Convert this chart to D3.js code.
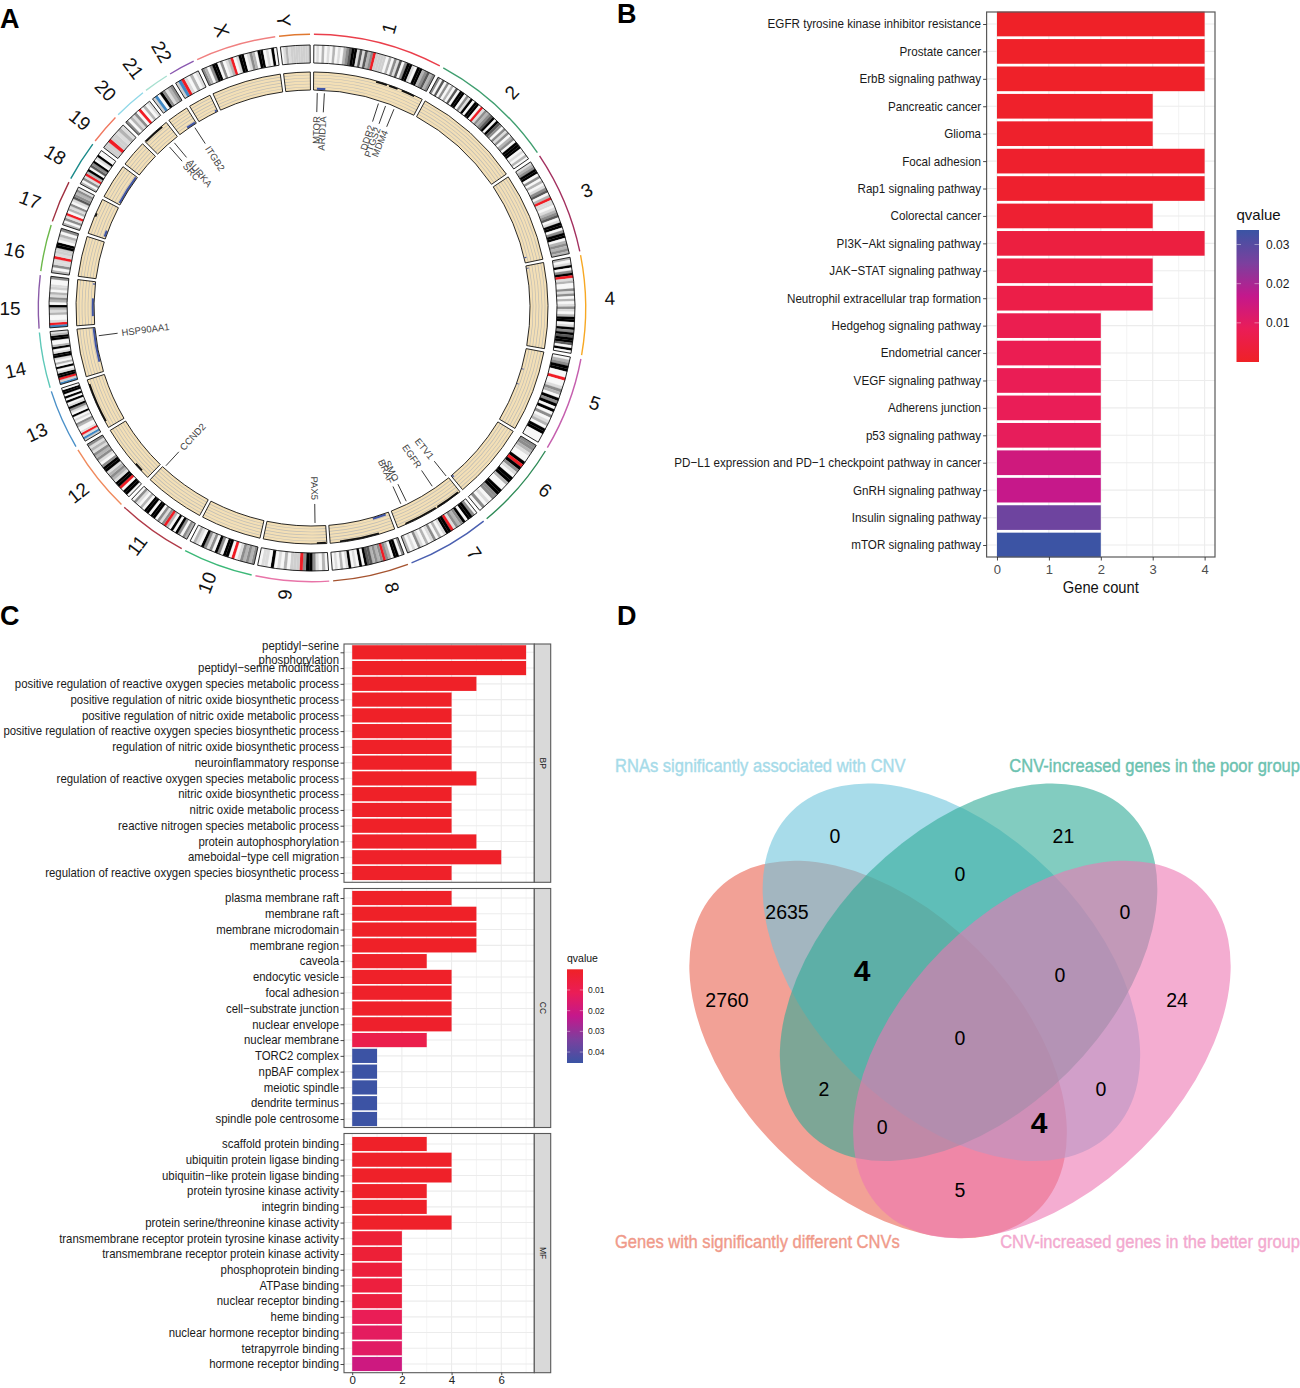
<!DOCTYPE html>
<html><head><meta charset="utf-8">
<style>html,body{margin:0;padding:0;background:#fff}svg{display:block}text{font-family:"Liberation Sans",Arial,sans-serif}</style>
<script src="https://cdn.jsdelivr.net/npm/d3@7/dist/d3.min.js"></script>
</head><body><svg id="c" width="1300" height="1388" viewBox="0 0 1300 1388"></svg>
<script>
// ---------- Panel A data ----------
const chrNames=["1","2","3","4","5","6","7","8","9","10","11","12","13","14","15","16","17","18","19","20","21","22","X","Y"];
const chrLengths=[249,243,198,191,181,171,159,146,141,135,135,133,115,107,102,90,81,78,59,63,48,51,155,59];
const chrColors=["#ea3f4b","#3f9e6f","#a3305f","#f7a823","#c55fae","#2e8b57","#4a5fb0","#a5532f","#e874a8","#3cb878","#b03a48","#f08a5d","#4a90c8","#5dc8b8","#8a5aa8","#6cb84a","#a03040","#1a8a8a","#f07860","#90d8e8","#a8e0d0","#8a58b0","#f08080","#e07830"];
// chromosome label placement (angle, radius)
const chrLabelAngles=[15.4,42.8,66.8,88.1,108.6,128,146.5,164,185.4,200.9,216.4,231.7,245.7,258.2,270,281,291,300.8,309,316.5,323.3,329.6,342,354.4];
const chrLabelRadii=[290,294,299,298,298.5,296,294,291,288,294,295,298,302,303,302,303,302,299,298.6,300,299,297,292,289];
// cytoband strip codes read clockwise along each chromosome
const chrBands=[
"0102010201023455141423RLLLL0203140355105523423",
"30403020405503150550R13234505430313023055501020",
"123550302013402R110123401550355023232",
"2015035R12003130201310255015354554050",
"0235500R0013205350503012055000",
"3321005R531055200553301030",
"0355053231R55102031020130102",
"3055023R3232445050105102010",
"02013553RLLL0201050110",
"3232310R055035031350120",
"230350502R313055055020130",
"0550R5512321553013231213",
"LB1R1002301050135105050550",
"BLR551050201551052005521",
"BR1002125023120L1003",
"20311R1LL5501203",
"2031R02130143231",
"2031R25043501500",
"LLRLL121",
"302130R0201",
"LB053123",
"LBR10201",
"32035503012R0155013205501050",
"0121LLLLLLLL"
];
const bandFill={0:"#f7f7f7",1:"#dcdcdc",2:"#b4b4b4",3:"#8c8c8c",4:"#595959",5:"#000000",R:"#f01c24",L:"#cfcfcf",B:"#3f88c5"};
// [chromosome, start Mb, end Mb]
const blueSegments=[["1",8,28],["3",184,187],["4",5,7],["5",48,50],["5",85,87],["6",166,170],["8",8,40],["15",20,62],["15",95,98],["14",25,106],["17",5,20],["18",4,76],["21",24,46],["22",45,50]];
const blackSegments=[["1",140,165],["1",170,190],["1",200,230],["7",4,60],["7",64,140],["8",36,124],["9",2,22],["12",20,40],["13",15,105],["17",40,48],["20",2,50]];
const geneNames=["MTOR","ARID1A","DDR2","PTGS2","MDM4","ETV1","EGFR","SMO","BRAF","PAX5","CCND2","HSP90AA1","SRC","AURKA","ITGB2"];
const geneAngles=[1.4,3.3,18,20,22.4,141.4,146,154,155.6,179.2,222.8,262.6,318.5,320.2,327];

// ---------- Panel B data ----------
const keggTerms=["EGFR tyrosine kinase inhibitor resistance","Prostate cancer","ErbB signaling pathway","Pancreatic cancer","Glioma","Focal adhesion","Rap1 signaling pathway","Colorectal cancer","PI3K−Akt signaling pathway","JAK−STAT signaling pathway","Neutrophil extracellular trap formation","Hedgehog signaling pathway","Endometrial cancer","VEGF signaling pathway","Adherens junction","p53 signaling pathway","PD−L1 expression and PD−1 checkpoint pathway in cancer","GnRH signaling pathway","Insulin signaling pathway","mTOR signaling pathway"];
const keggCounts=[4,4,4,3,3,4,4,3,4,3,3,2,2,2,2,2,2,2,2,2];
const keggQ=[0.0004,0.0005,0.0006,0.0008,0.001,0.0012,0.0014,0.002,0.0045,0.0052,0.0058,0.0072,0.0075,0.008,0.0085,0.009,0.0145,0.0165,0.027,0.0335];
const keggTicks=[0,1,2,3,4];
const keggLegendTicks=[0.01,0.02,0.03];

// ---------- Panel C data ----------
const bpTerms=["peptidyl−serine\nphosphorylation","peptidyl−serine modification","positive regulation of reactive oxygen species metabolic process","positive regulation of nitric oxide biosynthetic process","positive regulation of nitric oxide metabolic process","positive regulation of reactive oxygen species biosynthetic process","regulation of nitric oxide biosynthetic process","neuroinflammatory response","regulation of reactive oxygen species metabolic process","nitric oxide biosynthetic process","nitric oxide metabolic process","reactive nitrogen species metabolic process","protein autophosphorylation","ameboidal−type cell migration","regulation of reactive oxygen species biosynthetic process"];
const bpCounts=[7,7,5,4,4,4,4,4,5,4,4,4,5,6,4];
const bpQ=[0.0003,0.0003,0.0004,0.0004,0.0004,0.0004,0.0004,0.0005,0.0005,0.0005,0.0005,0.0005,0.0006,0.0006,0.0006];
const ccTerms=["plasma membrane raft","membrane raft","membrane microdomain","membrane region","caveola","endocytic vesicle","focal adhesion","cell−substrate junction","nuclear envelope","nuclear membrane","TORC2 complex","npBAF complex","meiotic spindle","dendrite terminus","spindle pole centrosome"];
const ccCounts=[4,5,5,5,3,4,4,4,4,3,1,1,1,1,1];
const ccQ=[0.0004,0.0004,0.0004,0.0004,0.0006,0.0008,0.001,0.001,0.0015,0.0085,0.045,0.045,0.045,0.045,0.045];
const mfTerms=["scaffold protein binding","ubiquitin protein ligase binding","ubiquitin−like protein ligase binding","protein tyrosine kinase activity","integrin binding","protein serine/threonine kinase activity","transmembrane receptor protein tyrosine kinase activity","transmembrane receptor protein kinase activity","phosphoprotein binding","ATPase binding","nuclear receptor binding","heme binding","nuclear hormone receptor binding","tetrapyrrole binding","hormone receptor binding"];
const mfCounts=[3,4,4,3,3,4,2,2,2,2,2,2,2,2,2];
const mfQ=[0.0006,0.0006,0.0006,0.0008,0.0008,0.001,0.004,0.004,0.005,0.0055,0.006,0.011,0.013,0.014,0.02];
const goTicks=[0,2,4,6];
const goLegendTicks=[0.01,0.02,0.03,0.04];

// ---------- Panel D data ----------
const vennSets=["RNAs significantly associated with CNV","CNV-increased genes in the poor group","Genes with significantly different CNVs","CNV-increased genes in the better group"];
const vennValues=[0,21,0,2635,0,4,0,2760,24,0,2,0,0,4,5];
const vennBold=[0,0,0,0,0,1,0,0,0,0,0,0,0,1,0];
// region anchors, in venn units
const vennRegionU=[[-.656,-1.06],[.543,-1.06],[0,-.86],[-.908,-.66],[.866,-.66],[-.514,-.353],[.525,-.33],[-1.223,-.2],[1.139,-.2],[0,0],[-.714,.269],[.74,.269],[-.409,.467],[.415,.446],[0,.797]];
// ellipses: centre (u), semi axes (u), rotation
const vennEllipses=[[-.045,-.345,1.19,.74,45],[.045,-.345,1.19,.74,-45],[-.43,.06,1.19,.74,45],[.43,.06,1.19,.74,-45]];
const vennFills=["#6ec5dc","#2faa96","#e96250","#ed76b2"];
const vennTextColors=["#a6dbe9","#6cc2b0","#f09a8a","#f3a9cf"];
const vennDrawOrder=[2,0,1,3];

// ---------- Shared ----------
const svg=d3.select("#c");
const colorStops=["#ef2126","#ea1d57","#c4188c","#7b409e","#3a54a4"];
const interp=d3.piecewise(d3.interpolateRgb,colorStops);
const gridCol="#ececec",borderCol="#595959";

[["A",0,28],["B",617,23],["C",0,625],["D",617,625]].forEach(p=>{
  svg.append("text").attr("x",p[1]).attr("y",p[2]).attr("font-size",27).attr("font-weight","bold").attr("fill","#000").text(p[0]);
});

// ---------- Panel A ----------
(function(){
  const g=svg.append("g").attr("transform","translate(312,308)");
  const gap=0.81, start=0.4, total=d3.sum(chrLengths);
  const deg=d3.scaleLinear().domain([0,total]).range([0,360-gap*24]);
  const rad=a=>a*Math.PI/180;
  let cum=0;
  const sect=chrNames.map((n,i)=>{
    const a0=start+i*gap+deg(cum); cum+=chrLengths[i];
    const a1=start+i*gap+deg(cum);
    return {n,i,a0,a1,len:chrLengths[i],col:chrColors[i],bands:chrBands[i]};
  });
  const arc=d3.arc();
  const sec=(r0,r1,a0,a1)=>arc({innerRadius:r0,outerRadius:r1,startAngle:rad(a0),endAngle:rad(a1)});
  const byName=Object.fromEntries(sect.map(s=>[s.n,s]));
  const posA=(s,mb)=>s.a0+(s.a1-s.a0)*mb/s.len;
  const rOuter=[245,263], rTrack=[218,236];
  const trackR=d3.scaleLinear().domain([0,6]).range(rTrack);

  sect.forEach(s=>{
    g.append("path").attr("d",sec(273,274.4,s.a0,s.a1)).attr("fill",s.col);
    const codes=s.bands.split("");
    const bx=d3.scaleLinear().domain([0,codes.length]).range([s.a0,s.a1]);
    codes.forEach((c,k)=>{
      g.append("path").attr("d",sec(rOuter[0],rOuter[1],bx(k),bx(k+1))).attr("fill",bandFill[c]).attr("stroke",bandFill[c]).attr("stroke-width",.2);
    });
    g.append("path").attr("d",sec(rOuter[0],rOuter[1],s.a0,s.a1)).attr("fill","none").attr("stroke","#111").attr("stroke-width",.9);
    g.append("path").attr("d",sec(rTrack[0],rTrack[1],s.a0,s.a1)).attr("fill","#f3dfb6");
    d3.range(1,6).forEach(k=>{
      const r=trackR(k);
      g.append("path").attr("d",sec(r-.35,r+.35,s.a0,s.a1)).attr("fill","#bfbdb5");
    });
    const la=chrLabelAngles[s.i], lr=chrLabelRadii[s.i];
    const x=lr*Math.sin(rad(la)), y=-lr*Math.cos(rad(la));
    const rot=la<180?la-90:la+90;
    g.append("text").attr("transform",`translate(${x},${y}) rotate(${rot})`).attr("text-anchor","middle").attr("dy","0.35em").attr("font-size",19).attr("fill","#111").text(s.n);
  });
  blueSegments.forEach(d=>{const s=byName[d[0]];
    g.append("path").attr("d",sec(trackR(0)+.3,trackR(0)+2.3,posA(s,d[1]),posA(s,Math.min(d[2],s.len)))).attr("fill","#3f55a8");});
  blackSegments.forEach(d=>{const s=byName[d[0]];
    g.append("path").attr("d",sec(trackR(6)-1.8,trackR(6),posA(s,d[1]),posA(s,Math.min(d[2],s.len)))).attr("fill","#111");});
  sect.forEach(s=>{
    g.append("path").attr("d",sec(rTrack[0],rTrack[1],s.a0,s.a1)).attr("fill","none").attr("stroke","#111").attr("stroke-width",.9);
  });
  geneNames.forEach((n,i)=>{
    const a=geneAngles[i], sa=Math.sin(rad(a)), ca=-Math.cos(rad(a));
    g.append("line").attr("x1",215*sa).attr("y1",215*ca).attr("x2",196*sa).attr("y2",196*ca).attr("stroke","#222").attr("stroke-width",.9);
    const right=a<180, rot=right?a-90:a+90;
    g.append("text").attr("transform",`translate(${192*sa},${192*ca}) rotate(${rot})`)
      .attr("text-anchor",right?"end":"start").attr("dy","0.35em").attr("font-size",9.5).attr("fill","#444").text(n);
  });
})();

// helpers for bar panels
function grid(g,x,y,x0,x1,y0,y1,major,minor,rows){
  minor.forEach(v=>g.append("line").attr("x1",x(v)).attr("x2",x(v)).attr("y1",y0).attr("y2",y1).attr("stroke",gridCol).attr("stroke-width",.6));
  major.forEach(v=>g.append("line").attr("x1",x(v)).attr("x2",x(v)).attr("y1",y0).attr("y2",y1).attr("stroke",gridCol).attr("stroke-width",1.1));
  rows.forEach(t=>g.append("line").attr("x1",x0).attr("x2",x1).attr("y1",y(t)).attr("y2",y(t)).attr("stroke",gridCol).attr("stroke-width",1.1));
}
function yLabels(axisG,sx,fs,lineGap){
  axisG.select(".domain").remove();
  axisG.selectAll(".tick line").attr("stroke","#333").attr("stroke-width",.9);
  axisG.selectAll(".tick text").each(function(d){
    const t=d3.select(this), lines=String(d).split("\n"), xx=+t.attr("x");
    t.text(null).attr("text-anchor","end").attr("font-size",fs).attr("fill","#1a1a1a").attr("font-family",null).attr("dy",null)
     .attr("transform",`translate(${xx},0) scale(${sx},1)`).attr("x",0);
    lines.forEach((l,i)=>t.append("tspan").attr("x",0).attr("y",(i-(lines.length-1)/2)*lineGap+fs*.3).text(l));
  });
}
function xAxisStyle(a,fs,col){
  a.select(".domain").remove();
  a.selectAll(".tick line").attr("stroke","#333").attr("stroke-width",.9);
  a.selectAll(".tick text").attr("font-size",fs).attr("fill",col).attr("font-family",null);
}
function legend(id,x0,x1,y0,y1,qScale,ticks,titleY,titleSize,labSize,reverse){
  const grad=svg.append("defs").append("linearGradient").attr("id",id).attr("x1",0).attr("x2",0).attr("y1",reverse?0:1).attr("y2",reverse?1:0);
  colorStops.forEach((c,i)=>grad.append("stop").attr("offset",i/(colorStops.length-1)).attr("stop-color",c));
  svg.append("rect").attr("x",x0).attr("y",y0).attr("width",x1-x0).attr("height",y1-y0).attr("fill",`url(#${id})`);
  const w=(x1-x0)/5;
  ticks.forEach(t=>{
    const y=qScale(t);
    [[x0,x0+w],[x1-w,x1]].forEach(p=>svg.append("line").attr("x1",p[0]).attr("x2",p[1]).attr("y1",y).attr("y2",y).attr("stroke","#fff").attr("stroke-opacity",.6).attr("stroke-width",.7));
    svg.append("text").attr("x",x1+(labSize>10?7:5)).attr("y",y).attr("dy","0.35em").attr("font-size",labSize).attr("fill","#1a1a1a").text(t.toFixed(2));
  });
  svg.append("text").attr("x",x0).attr("y",titleY).attr("font-size",titleSize).attr("fill","#111").text("qvalue");
}

// ---------- Panel B ----------
(function(){
  const g=svg.append("g");
  const x0=986.6,x1=1215,y0=12,y1=557;
  const x=d3.scaleLinear().domain([-0.2,4.2]).range([x0,x1]);
  const y=d3.scalePoint().domain(keggTerms).range([24,545]);
  const color=d3.scaleLinear().domain([0,0.0337]).range([0,1]);
  grid(g,x,y,x0,x1,y0,y1,keggTicks,[.5,1.5,2.5,3.5],keggTerms);
  const h=y.step()*.9;
  g.selectAll(".b").data(keggTerms).enter().append("rect")
    .attr("x",x(0)).attr("y",d=>y(d)-h/2).attr("height",h)
    .attr("width",(d,i)=>x(keggCounts[i])-x(0)).attr("fill",(d,i)=>interp(color(keggQ[i])));
  g.append("rect").attr("x",x0).attr("y",y0).attr("width",x1-x0).attr("height",y1-y0).attr("fill","none").attr("stroke",borderCol).attr("stroke-width",1.2);
  const ax=g.append("g").attr("transform",`translate(0,${y1})`).call(d3.axisBottom(x).tickValues(keggTicks).tickFormat(d3.format("d")).tickSize(3.5).tickPadding(4));
  xAxisStyle(ax,13,"#4d4d4d");
  const ay=g.append("g").attr("transform",`translate(${x0},0)`).call(d3.axisLeft(y).tickSize(3.5).tickPadding(2));
  yLabels(ay,.897,13,14);
  g.append("text").attr("x",x(2)).attr("y",593).attr("text-anchor","middle").attr("font-size",16).attr("transform",`translate(${x(2)},0) scale(.92,1) translate(${-x(2)},0)`).attr("fill","#111").text("Gene count");
  const qs=d3.scaleLinear().domain([0,0.0337]).range([362,230]);
  legend("lgB",1236.5,1259,230,362,qs,keggLegendTicks,220,15,12,false);
})();

// ---------- Panel C ----------
(function(){
  const x0=344,x1=534.3,xs=550.7;
  const x=d3.scaleLinear().domain([-0.33,7.33]).range([x0,x1]);
  const qMax=0.0453;
  const panels=[
    {name:"BP",terms:bpTerms,counts:bpCounts,q:bpQ,y0:644,y1:882.3,ry:[652.3,873]},
    {name:"CC",terms:ccTerms,counts:ccCounts,q:ccQ,y0:888.5,y1:1127.5,ry:[898,1119]},
    {name:"MF",terms:mfTerms,counts:mfCounts,q:mfQ,y0:1133.5,y1:1372.7,ry:[1144,1364]}
  ];
  panels.forEach((p,pi)=>{
    const g=svg.append("g");
    const y=d3.scalePoint().domain(p.terms).range(p.ry);
    grid(g,x,y,x0,x1,p.y0,p.y1,goTicks,[1,3,5,7],p.terms);
    const h=y.step()*.9;
    g.selectAll(".b").data(p.terms).enter().append("rect")
      .attr("x",x(0)).attr("y",d=>y(d)-h/2).attr("height",h)
      .attr("width",(d,i)=>x(p.counts[i])-x(0)).attr("fill",(d,i)=>interp(p.q[i]/qMax));
    g.append("rect").attr("x",x0).attr("y",p.y0).attr("width",x1-x0).attr("height",p.y1-p.y0).attr("fill","none").attr("stroke",borderCol).attr("stroke-width",1.1);
    g.append("rect").attr("x",x1).attr("y",p.y0).attr("width",xs-x1).attr("height",p.y1-p.y0).attr("fill","#d9d9d9").attr("stroke",borderCol).attr("stroke-width",1.1);
    g.append("text").attr("transform",`translate(${(x1+xs)/2},${(p.y0+p.y1)/2}) rotate(90)`).attr("text-anchor","middle").attr("dy","0.35em").attr("font-size",8.5).attr("fill","#222").text(p.name);
    const ay=g.append("g").attr("transform",`translate(${x0},0)`).call(d3.axisLeft(y).tickSize(3.5).tickPadding(1.5));
    yLabels(ay,.912,12.5,14);
    if(pi===2){
      const ax=g.append("g").attr("transform",`translate(0,${p.y1})`).call(d3.axisBottom(x).tickValues(goTicks).tickFormat(d3.format("d")).tickSize(2.5).tickPadding(0.5));
      xAxisStyle(ax,11.5,"#222");
    }
  });
  const qs=d3.scaleLinear().domain([0,qMax]).range([969.3,1063]);
  legend("lgC",567,583,969.3,1063,qs,goLegendTicks,962,10.5,8.5,true);
})();

// ---------- Panel D ----------
(function(){
  const g=svg.append("g");
  const vx=d3.scaleLinear().domain([-1,1]).range([960-190.5,960+190.5]);
  const vy=d3.scaleLinear().domain([-1,1]).range([1038-190.5,1038+190.5]);
  vennDrawOrder.forEach(i=>{
    const e=vennEllipses[i];
    g.append("ellipse").attr("transform",`translate(${vx(e[0])},${vy(e[1])}) rotate(${e[4]})`)
      .attr("rx",vx(e[2])-vx(0)).attr("ry",vx(e[3])-vx(0)).attr("fill",vennFills[i]).attr("fill-opacity",.6);
  });
  vennValues.forEach((v,i)=>{
    g.append("text").attr("x",vx(vennRegionU[i][0])).attr("y",vy(vennRegionU[i][1])).attr("text-anchor","middle").attr("dy","0.35em")
      .attr("font-size",vennBold[i]?30:19.5).attr("font-weight",vennBold[i]?"bold":"normal").attr("fill","#000").text(v);
  });
  const lab=[[615,766,"start"],[1300,766,"end"],[615,1242,"start"],[1300,1242,"end"]];
  vennSets.forEach((t,i)=>{
    g.append("text").attr("transform",`translate(${lab[i][0]},${lab[i][1]}) scale(.92,1)`).attr("dy","0.35em").attr("text-anchor",lab[i][2])
      .attr("font-size",18).attr("fill",vennTextColors[i]).attr("stroke",vennTextColors[i]).attr("stroke-width",.4).text(t);
  });
})();
</script></body></html>
